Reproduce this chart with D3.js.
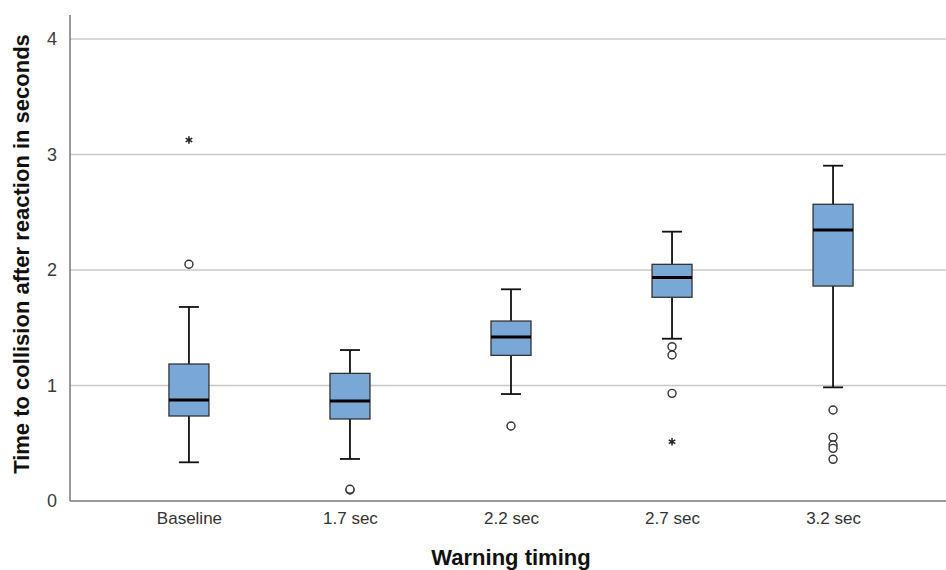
<!DOCTYPE html>
<html><head><meta charset="utf-8">
<script src="https://cdn.jsdelivr.net/npm/d3@7"></script>
<style>body{margin:0;background:#fff}svg{display:block}</style>
</head><body>
<svg id="c" width="946" height="570"></svg>
<script>
const categories = ["Baseline", "1.7 sec", "2.2 sec", "2.7 sec", "3.2 sec"];
const whiskerLow  = [0.335, 0.364, 0.926, 1.405, 0.984];
const q1          = [0.736, 0.710, 1.261, 1.764, 1.861];
const median      = [0.874, 0.866, 1.420, 1.934, 2.346];
const q3          = [1.186, 1.105, 1.558, 2.049, 2.569];
const whiskerHigh = [1.680, 1.307, 1.833, 2.332, 2.903];
const outliers    = [[2.05], [0.095, 0.102], [0.649], [1.336, 1.264, 0.932], [0.788, 0.551, 0.485, 0.456, 0.361]];
const extremes    = [[3.126], [], [], [0.513], []];
const yTicks = [0, 1, 2, 3, 4];

(function () {
const svg = d3.select("#c");
const mL = 70, mR = 946, mT = 15, mB = 501;
const x = d3.scalePoint().domain(categories).range([mL + 3, mR + 3]).padding(0.72);
const y = d3.scaleLinear().domain([0, 4]).range([mB, 39]);
const font = "Liberation Sans, Arial, sans-serif";

// gridlines
svg.append("g").selectAll("line").data(yTicks.filter(d => d > 0)).join("line")
  .attr("x1", mL).attr("x2", mR).attr("y1", d => y(d)).attr("y2", d => y(d))
  .attr("stroke", "#c8c8c8").attr("stroke-width", 1.3);

// axes
const yAxis = svg.append("g").attr("transform", `translate(${mL},0)`)
  .call(d3.axisLeft(y).tickValues(yTicks).tickFormat(d3.format("d")).tickSize(0).tickPadding(13));
yAxis.select(".domain").remove();
yAxis.selectAll("text").attr("font-family", font).attr("font-size", 18).attr("fill", "#3a3a3a");
svg.append("line").attr("x1", mL).attr("x2", mL).attr("y1", mT).attr("y2", mB).attr("stroke", "#777").attr("stroke-width", 1.5);

const xAxis = svg.append("g").attr("transform", `translate(0,${mB})`)
  .call(d3.axisBottom(x).tickSize(0).tickPadding(11));
xAxis.select(".domain").remove();
xAxis.selectAll("text").attr("font-family", font).attr("font-size", 17).attr("fill", "#333");
svg.append("line").attr("x1", mL).attr("x2", mR).attr("y1", mB).attr("y2", mB).attr("stroke", "#777").attr("stroke-width", 1.5);

// boxes
const bw = 40, cw = 20;
const g = svg.append("g");
categories.forEach((c, i) => {
  const cx = x(c);
  g.append("line").attr("x1", cx).attr("x2", cx).attr("y1", y(whiskerHigh[i])).attr("y2", y(q3[i])).attr("stroke", "#111").attr("stroke-width", 1.8);
  g.append("line").attr("x1", cx).attr("x2", cx).attr("y1", y(q1[i])).attr("y2", y(whiskerLow[i])).attr("stroke", "#111").attr("stroke-width", 1.8);
  g.append("line").attr("x1", cx - cw/2).attr("x2", cx + cw/2).attr("y1", y(whiskerHigh[i])).attr("y2", y(whiskerHigh[i])).attr("stroke", "#111").attr("stroke-width", 1.8);
  g.append("line").attr("x1", cx - cw/2).attr("x2", cx + cw/2).attr("y1", y(whiskerLow[i])).attr("y2", y(whiskerLow[i])).attr("stroke", "#111").attr("stroke-width", 1.8);
  g.append("rect").attr("x", cx - bw/2).attr("width", bw).attr("y", y(q3[i])).attr("height", y(q1[i]) - y(q3[i]))
    .attr("fill", "#79a8d7").attr("stroke", "#333").attr("stroke-width", 1.3);
  g.append("line").attr("x1", cx - bw/2).attr("x2", cx + bw/2).attr("y1", y(median[i])).attr("y2", y(median[i])).attr("stroke", "#000").attr("stroke-width", 3);
  outliers[i].forEach(v => {
    g.append("circle").attr("cx", cx).attr("cy", y(v)).attr("r", 4).attr("fill", "#fff").attr("stroke", "#333").attr("stroke-width", 1.4);
  });
  extremes[i].forEach(v => {
    g.append("path").attr("d", d3.symbol(d3.symbolAsterisk, 40)()).attr("transform", `translate(${cx},${y(v)})`)
      .attr("fill", "none").attr("stroke", "#222").attr("stroke-width", 1.5);
  });
});

// titles
svg.append("text").attr("x", 511).attr("y", 565).attr("text-anchor", "middle")
  .attr("font-family", font).attr("font-weight", "bold").attr("font-size", 22).attr("fill", "#111")
  .text("Warning timing");
svg.append("text").attr("transform", `translate(29,254) rotate(-90)`).attr("text-anchor", "middle")
  .attr("font-family", font).attr("font-weight", "bold").attr("font-size", 22).attr("fill", "#111")
  .text("Time to collision after reaction in seconds");
})();
</script>
</body></html>
